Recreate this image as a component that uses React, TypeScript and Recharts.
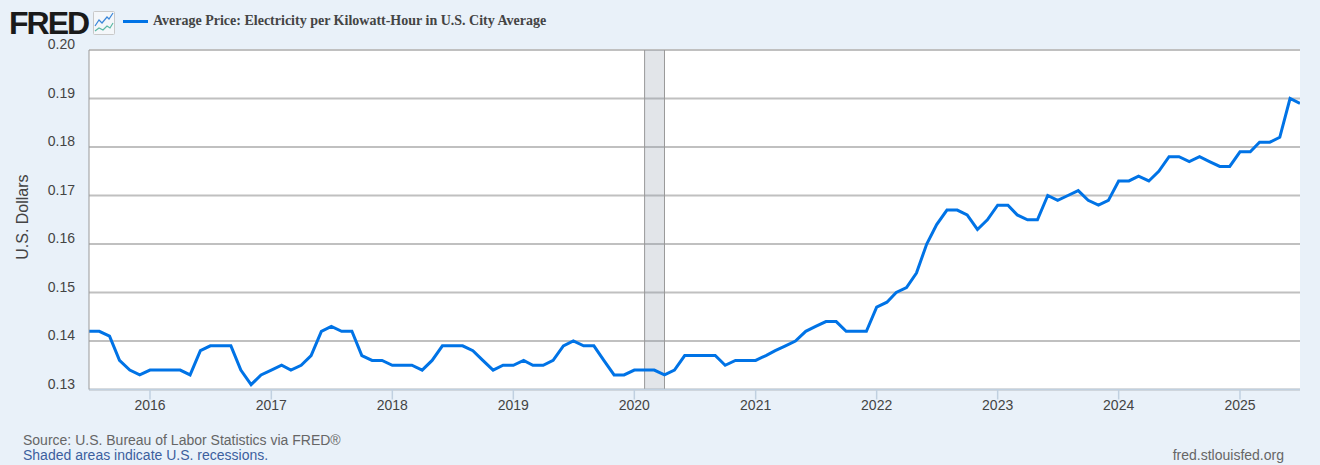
import { CartesianGrid, Line, LineChart, ReferenceArea, ReferenceLine, XAxis, YAxis } from 'recharts';

// monthly, Jul 2015 - Jul 2025
const firstMonth = Date.UTC(2015, 6, 1);
const priceValues = [
  0.142, 0.142, 0.141, 0.136, 0.134, 0.133,
  0.134, 0.134, 0.134, 0.134, 0.133, 0.138, 0.139, 0.139, 0.139, 0.134, 0.131, 0.133,
  0.134, 0.135, 0.134, 0.135, 0.137, 0.142, 0.143, 0.142, 0.142, 0.137, 0.136, 0.136,
  0.135, 0.135, 0.135, 0.134, 0.136, 0.139, 0.139, 0.139, 0.138, 0.136, 0.134, 0.135,
  0.135, 0.136, 0.135, 0.135, 0.136, 0.139, 0.14, 0.139, 0.139, 0.136, 0.133, 0.133,
  0.134, 0.134, 0.134, 0.133, 0.134, 0.137, 0.137, 0.137, 0.137, 0.135, 0.136, 0.136,
  0.136, 0.137, 0.138, 0.139, 0.14, 0.142, 0.143, 0.144, 0.144, 0.142, 0.142, 0.142,
  0.147, 0.148, 0.15, 0.151, 0.154, 0.16, 0.164, 0.167, 0.167, 0.166, 0.163, 0.165,
  0.168, 0.168, 0.166, 0.165, 0.165, 0.17, 0.169, 0.17, 0.171, 0.169, 0.168, 0.169,
  0.173, 0.173, 0.174, 0.173, 0.175, 0.178, 0.178, 0.177, 0.178, 0.177, 0.176, 0.176,
  0.179, 0.179, 0.181, 0.181, 0.182, 0.19, 0.189,
];
const yTicks = [0.13, 0.14, 0.15, 0.16, 0.17, 0.18, 0.19, 0.2];
const yearTicks = [2016, 2017, 2018, 2019, 2020, 2021, 2022, 2023, 2024, 2025];
const recessionStart = Date.UTC(2020, 1, 1);
const recessionEnd = Date.UTC(2020, 3, 1);

const monthTime = (i: number) => {
  const d = new Date(firstMonth);
  d.setUTCMonth(d.getUTCMonth() + i);
  return d.getTime();
};

const data = priceValues.map((price, i) => ({ time: monthTime(i), price }));

const sans = '"Liberation Sans", Arial, sans-serif';

// FRED puts the y labels above their grid lines
function YTick({ x, y, payload }: any) {
  return (
    <text x={x + 5} y={y - 1} textAnchor="end" fontSize={14} fontFamily={sans} fill="#444">
      {payload.value.toFixed(2)}
    </text>
  );
}

function FredIcon() {
  return (
    <svg width={22} height={24} style={{ position: 'absolute', left: 93, top: 11 }}>
      <rect x={0.5} y={0.5} width={21} height={23} rx={1} fill="#f4f7fa" stroke="#c9c9c9" />
      <polyline points="2,15 6,9 9,12 14,6 16,8 20,2" fill="none" stroke="#3b87d9" strokeWidth={1.2} />
      <polyline points="2,20 6,17 10,19 14,15 17,17 20,12" fill="none" stroke="#5cb8a5" strokeWidth={1.2} />
    </svg>
  );
}

export default function App() {
  return (
    <div style={{ position: 'absolute', left: 0, top: 0, width: 1320, height: 465, background: '#e9f1f9', overflow: 'hidden' }}>
      <LineChart
        width={1320}
        height={465}
        data={data}
        margin={{ top: 50, right: 20, bottom: 0, left: 0 }}
      >
        <CartesianGrid horizontal vertical={false} stroke="#c0c0c0" strokeWidth={2} fill="#fff" syncWithTicks />
        <XAxis
          dataKey="time"
          type="number"
          scale="time"
          domain={[data[0].time, data[data.length - 1].time]}
          ticks={yearTicks.map((y) => Date.UTC(y, 0, 1))}
          tickFormatter={(v: number) => String(new Date(v).getUTCFullYear())}
          tick={{ fontSize: 14, fontFamily: sans, fill: '#444' }}
          tickSize={10}
          tickMargin={1}
          height={75.5}
          stroke="#c0d0e0"
          strokeWidth={1.5}
          interval={0}
          allowDataOverflow
        />
        <YAxis
          domain={[0.13, 0.2]}
          ticks={yTicks}
          width={89}
          stroke="#999"
          tickLine={false}
          tick={<YTick />}
          tickMargin={13}
          interval={0}
          allowDataOverflow
          label={{ value: 'U.S. Dollars', angle: -90, position: 'insideLeft', offset: 0, dx: 22, dy: 40, fontSize: 16, fontFamily: sans, fill: '#444' }}
        />
        <ReferenceArea x1={recessionStart} x2={recessionEnd} fill="#8a97a6" fillOpacity={0.25} stroke="none" />
        <ReferenceLine x={recessionStart} stroke="#999" />
        <ReferenceLine x={recessionEnd} stroke="#999" />
        <Line dataKey="price" type="linear" stroke="#0073e6" strokeWidth={3} dot={false} isAnimationActive={false} />
      </LineChart>

      <div style={{ position: 'absolute', left: 9, top: 10, fontFamily: sans, fontWeight: 700, fontSize: 32, lineHeight: '26px', letterSpacing: -2, color: '#1a1a1a' }}>
        FRED
      </div>
      <FredIcon />
      <div style={{ position: 'absolute', left: 123, top: 20, width: 25, height: 3, background: '#0073e6' }} />
      <div style={{ position: 'absolute', left: 153, top: 13, fontFamily: '"Liberation Serif", serif', fontWeight: 700, fontSize: 14, lineHeight: '16px', color: '#444', whiteSpace: 'nowrap' }}>
        Average Price: Electricity per Kilowatt-Hour in U.S. City Average
      </div>
      <div style={{ position: 'absolute', left: 23, top: 432, fontFamily: sans, fontSize: 14, lineHeight: '16px', color: '#666', whiteSpace: 'nowrap' }}>
        Source: U.S. Bureau of Labor Statistics via FRED®
      </div>
      <div style={{ position: 'absolute', left: 23, top: 447, fontFamily: sans, fontSize: 14, lineHeight: '16px', color: '#3c5f9e', whiteSpace: 'nowrap' }}>
        Shaded areas indicate U.S. recessions.
      </div>
      <div style={{ position: 'absolute', right: 36, top: 447, fontFamily: sans, fontSize: 14, lineHeight: '16px', color: '#666', whiteSpace: 'nowrap' }}>
        fred.stlouisfed.org
      </div>
    </div>
  );
}
